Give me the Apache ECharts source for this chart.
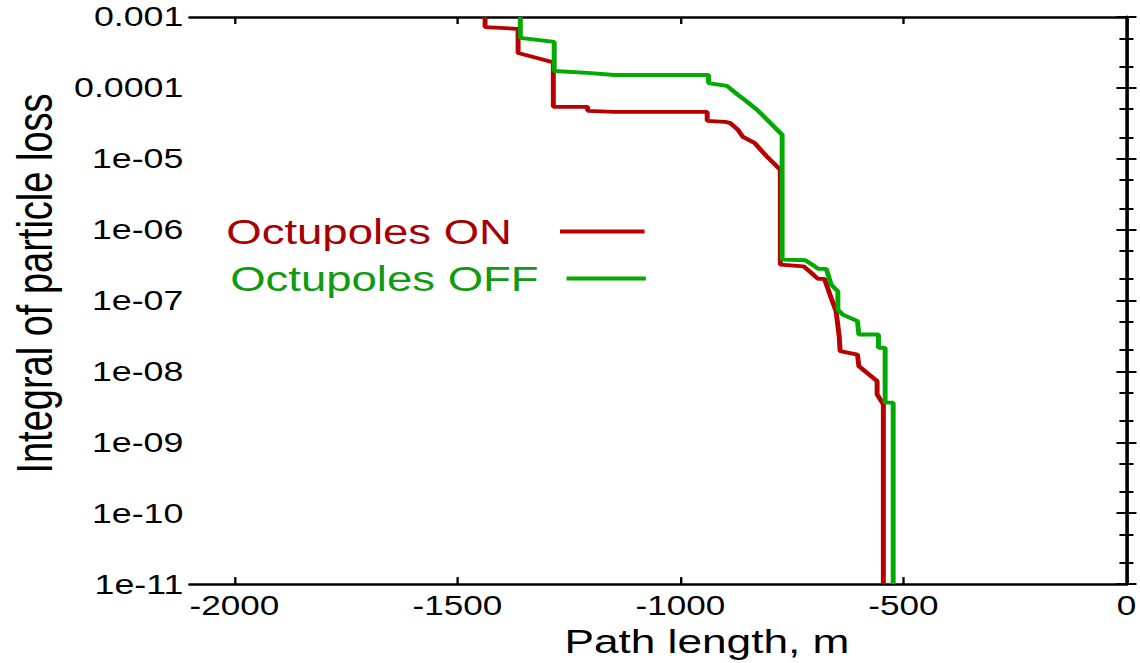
<!DOCTYPE html>
<html>
<head>
<meta charset="utf-8">
<script src="https://cdn.jsdelivr.net/npm/echarts@6/dist/echarts.min.js"></script>
<style>
  html, body { margin: 0; padding: 0; background: #fff; overflow: hidden; }
  #chart { position: absolute; left: 0; top: 0; height: 663px; transform-origin: 0 0; }
</style>
</head>
<body>
<div id="chart"></div>
<script>
// Path length (m) and integrated loss, octupoles switched on
const pathOn = [-1438, -1438, -1364, -1364, -1290, -1285, -1285, -1208, -1208, -1148, -940, -940,
  -900, -889, -871, -860, -834, -806, -776, -776, -724, -702, -691, -677, -662, -651, -644, -642,
  -603, -600, -559, -559, -545, -545];
const lossOn = [1e-3, 7.2e-4, 6.8e-4, 3.1e-4, 2.34e-4, 2.34e-4, 5.4e-5, 5.4e-5, 4.74e-5, 4.59e-5, 4.59e-5, 3.43e-5,
  3.32e-5, 3.21e-5, 2.56e-5, 2.04e-5, 1.68e-5, 1.07e-5, 7.0e-6, 3.21e-7, 3.04e-7, 2.32e-7, 2.02e-7, 2.02e-7,
  1.09e-7, 7.07e-8, 3.14e-8, 1.93e-8, 1.73e-8, 1.19e-8, 7.3e-9, 4.74e-9, 3.43e-9, 1e-11];

// Same quantity with octupoles switched off
const pathOff = [-1359, -1359, -1283, -1283, -1208, -1148, -937, -937, -896, -871, -856, -828, -772, -772,
  -720, -699, -691, -673, -662, -647, -647, -636, -603, -600, -556, -556, -541, -541, -523, -523];
const lossOff = [1e-3, 5.06e-4, 4.44e-4, 1.73e-4, 1.63e-4, 1.52e-4, 1.52e-4, 1.17e-4, 1.07e-4, 7.96e-5, 6.78e-5,
  4.9e-5, 2.18e-5, 3.78e-7, 3.7e-7, 3.04e-7, 2.79e-7, 2.79e-7, 1.68e-7, 1.35e-7, 7.46e-8, 6.35e-8, 5.11e-8,
  3.32e-8, 3.32e-8, 2.16e-8, 2.16e-8, 3.62e-9, 3.62e-9, 1e-11];

// Axis ticks and their labels
const xTicks = [-2000, -1500, -1000, -500, 0];
const xTickLabels = ['-2000', '-1500', '-1000', '-500', '0'];
const yTicks = [1e-3, 1e-4, 1e-5, 1e-6, 1e-7, 1e-8, 1e-9, 1e-10, 1e-11];
const yTickLabels = ['0.001', '0.0001', '1e-05', '1e-06', '1e-07', '1e-08', '1e-09', '1e-10', '1e-11'];
const yMinorTicks = [];
for (let e = -11; e < -3; e++) {
  yMinorTicks.push(2 * Math.pow(10, e), 5 * Math.pow(10, e));
}

const seriesNames = ['Octupoles ON', 'Octupoles OFF'];
const lineColors = ['#b80000', '#00aa00'];
const legendColors = ['#a80000', '#109a10'];

// The figure uses a wide typeface: draw on a narrower canvas and stretch it horizontally.
const SX = 1.3;
const W = 1140 / SX;
const dom = document.getElementById('chart');
dom.style.width = W + 'px';
dom.style.transform = 'scaleX(' + SX + ')';

const FONT = '"Liberation Sans", Arial, Helvetica, sans-serif';
const pairs = (xs, ys) => xs.map((x, i) => [x, ys[i]]);

function yLabel(v) {
  const i = yTicks.findIndex(t => Math.abs(Math.log10(t) - Math.log10(v)) < 1e-6);
  return i >= 0 ? yTickLabels[i] : '';
}
function xLabel(v) {
  const i = xTicks.indexOf(Math.round(v));
  return i >= 0 ? xTickLabels[i] : '';
}

const axisLine = { show: true, lineStyle: { color: '#000', width: 2.4 } };

const yBase = {
  type: 'log', logBase: 10, min: 1e-11, max: 1e-3,
  splitLine: { show: false }, minorTick: { show: false }
};
const xBase = { type: 'value', min: -2100, max: 0, splitLine: { show: false } };

const chart = echarts.init(dom, null, { renderer: 'svg' });
chart.setOption({
  animation: false,
  backgroundColor: '#fff',
  textStyle: { fontFamily: FONT },
  grid: { left: 133.1, right: W - 868.8, top: 17, bottom: 78, containLabel: false },
  xAxis: [
    Object.assign({}, xBase, {
      position: 'bottom',
      axisLine: { show: true, lineStyle: { color: '#000', width: 2.6 } },
      axisTick: { show: true, inside: true, length: 7, lineStyle: { color: '#000', width: 1.8 }, customValues: xTicks },
      axisLabel: { show: true, customValues: xTicks, formatter: xLabel, fontSize: 27, color: '#000', margin: 8, fontFamily: FONT },
      name: 'Path length, m', nameLocation: 'middle', nameGap: 38,
      nameTextStyle: { fontSize: 34, color: '#000', fontFamily: FONT, padding: [0, 0, 0, 75] }
    }),
    Object.assign({}, xBase, {
      position: 'top',
      axisLine: { show: true, lineStyle: { color: '#000', width: 2.6 } },
      axisTick: { show: true, inside: true, length: 7, lineStyle: { color: '#000', width: 1.8 }, customValues: xTicks },
      axisLabel: { show: false }
    })
  ],
  yAxis: [
    Object.assign({}, yBase, {
      position: 'left',
      axisLine: axisLine,
      axisTick: { show: true, inside: true, length: 7.7, lineStyle: { color: '#000', width: 2 }, customValues: yTicks },
      axisLabel: { show: true, customValues: yTicks, formatter: yLabel, fontSize: 27.5, color: '#000', margin: 5, fontFamily: FONT },
      name: 'Integral of particle loss', nameLocation: 'middle', nameGap: 90,
      nameTextStyle: { fontSize: 38, color: '#000', fontFamily: FONT, padding: [0, 0, 0, 34] }
    }),
    Object.assign({}, yBase, {
      position: 'left',
      axisLine: { show: false },
      axisTick: { show: true, inside: true, length: 5.4, lineStyle: { color: '#000', width: 2 }, customValues: yMinorTicks },
      axisLabel: { show: false }
    }),
    Object.assign({}, yBase, {
      position: 'right',
      axisLine: axisLine,
      axisTick: { show: true, inside: true, length: 7.7, lineStyle: { color: '#000', width: 2 }, customValues: yTicks },
      axisLabel: { show: false }
    }),
    Object.assign({}, yBase, {
      position: 'right',
      axisLine: { show: false },
      axisTick: { show: true, inside: true, length: 5.4, lineStyle: { color: '#000', width: 2 }, customValues: yMinorTicks },
      axisLabel: { show: false }
    })
  ],
  legend: [
    {
      orient: 'vertical', left: 174, top: 214, align: 'right', padding: 0,
      icon: 'rect', itemWidth: 65, itemHeight: 4, selectedMode: false,
      data: [{ name: seriesNames[0], textStyle: { color: legendColors[0] } }],
      textStyle: { fontSize: 35, fontFamily: FONT, padding: [0, 32, 0, 0] }
    },
    {
      orient: 'vertical', left: 177, top: 261, align: 'right', padding: 0,
      icon: 'rect', itemWidth: 61, itemHeight: 4, selectedMode: false,
      data: [{ name: seriesNames[1], textStyle: { color: legendColors[1] } }],
      textStyle: { fontSize: 35, fontFamily: FONT, padding: [0, 16.5, 0, 0] }
    }
  ],
  series: [
    {
      name: seriesNames[0], type: 'line', xAxisIndex: 0, yAxisIndex: 0,
      data: pairs(pathOn, lossOn), showSymbol: false, symbol: 'none', clip: true,
      color: lineColors[0], lineStyle: { color: lineColors[0], width: 3.8 }, z: 2
    },
    {
      name: seriesNames[1], type: 'line', xAxisIndex: 0, yAxisIndex: 0,
      data: pairs(pathOff, lossOff), showSymbol: false, symbol: 'none', clip: true,
      color: lineColors[1], lineStyle: { color: lineColors[1], width: 3.8 }, z: 3
    }
  ]
});
</script>
</body>
</html>
